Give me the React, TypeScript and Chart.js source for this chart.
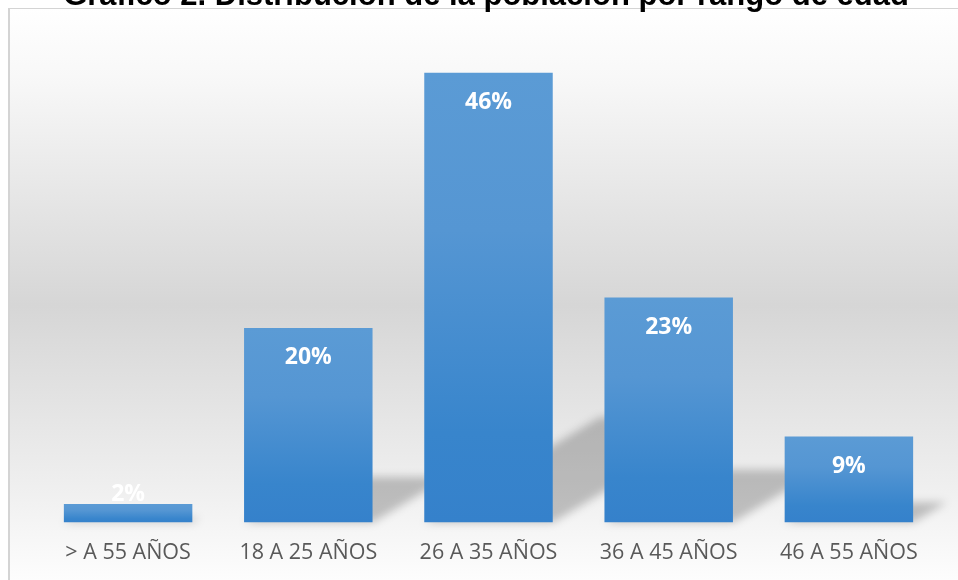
import React, { useEffect, useRef } from "react";
import { Chart, registerables } from "chart.js";

Chart.register(...registerables);

const categories = ["> A 55 AÑOS", "18 A 25 AÑOS", "26 A 35 AÑOS", "36 A 45 AÑOS", "46 A 55 AÑOS"];
const values = [1.9, 19.9, 46, 23, 8.8];
const titleText = "Gráfico 2. Distribución de la población por rango de edad";

const backgroundPlugin = {
  id: "bgPlugin",
  beforeDraw(chart: any) {
    const ctx = chart.ctx;
    const W = chart.width;
    const H = chart.height;
    ctx.save();
    ctx.fillStyle = "#ffffff";
    ctx.fillRect(0, 0, W, H);
    const g = ctx.createLinearGradient(0, 8, 0, H);
    g.addColorStop(0, "#ffffff");
    g.addColorStop(0.12, "#f8f8f8");
    g.addColorStop(0.52, "#d6d6d6");
    g.addColorStop(0.85, "#f0f0f0");
    g.addColorStop(1, "#fdfdfd");
    ctx.fillStyle = g;
    ctx.fillRect(8, 8, W - 8, H - 8);
    ctx.strokeStyle = "#d4d4d4";
    ctx.lineWidth = 1;
    ctx.beginPath();
    ctx.moveTo(8, 8.5);
    ctx.lineTo(W, 8.5);
    ctx.stroke();
    ctx.lineWidth = 2;
    ctx.beginPath();
    ctx.moveTo(9, 8);
    ctx.lineTo(9, H);
    ctx.stroke();
    ctx.fillStyle = "#000000";
    ctx.font = "bold 31px 'Liberation Sans', Arial, sans-serif";
    ctx.textAlign = "center";
    ctx.textBaseline = "alphabetic";
    ctx.fillText(titleText, 486, 5);
    ctx.restore();
  },
  beforeDatasetsDraw(chart: any) {
    const ctx = chart.ctx;
    const meta = chart.getDatasetMeta(0);
    ctx.save();
    ctx.filter = "blur(4px)";
    ctx.fillStyle = "rgba(0,0,0,0.22)";
    meta.data.forEach((el: any) => {
      const x0 = el.x - el.width / 2;
      const x1 = el.x + el.width / 2;
      const h = el.base - el.y;
      const dx = 0.39 * h;
      const dy = 0.234 * h;
      ctx.beginPath();
      ctx.moveTo(x0, el.base);
      ctx.lineTo(x1, el.base);
      ctx.lineTo(x1 + dx, el.base - dy);
      ctx.lineTo(x0 + dx, el.base - dy);
      ctx.closePath();
      ctx.fill();
    });
    ctx.restore();
  },
  afterDatasetsDraw(chart: any) {
    const ctx = chart.ctx;
    const meta = chart.getDatasetMeta(0);
    ctx.save();
    ctx.fillStyle = "#ffffff";
    ctx.font = "bold 23px 'Open Sans', sans-serif";
    ctx.textAlign = "center";
    ctx.textBaseline = "middle";
    meta.data.forEach((el: any, i: number) => {
      const cy = Math.min(el.y + 30, el.base - 28);
      ctx.fillText(Math.round(values[i]) + "%", el.x, cy);
    });
    ctx.restore();
  },
};

export default function App() {
  const ref = useRef<HTMLCanvasElement | null>(null);
  useEffect(() => {
    if (!ref.current) return;
    const chart = new Chart(ref.current, {
      type: "bar",
      data: {
        labels: categories,
        datasets: [
          {
            data: values,
            backgroundColor: (c: any) => {
              const ch = c.chart;
              if (!ch.chartArea || c.type !== "data" || !ch.scales.y) return "#4a8fd2";
              const top = ch.scales.y.getPixelForValue(c.parsed.y);
              const base = ch.scales.y.getPixelForValue(0);
              if (!isFinite(top) || !isFinite(base) || base - top < 1) return "#4a8fd2";
              const g = ch.ctx.createLinearGradient(0, top, 0, base);
              g.addColorStop(0, "#5b9bd5");
              g.addColorStop(0.35, "#5596d3");
              g.addColorStop(0.8, "#3885cc");
              g.addColorStop(1, "#3581cb");
              return g;
            },
            borderWidth: 0,
            barPercentage: 0.713,
            categoryPercentage: 1,
          },
        ],
      },
      options: {
        responsive: false,
        animation: false,
        layout: { padding: { left: 38, right: 19, top: 33.6, bottom: 0 } },
        plugins: { legend: { display: false }, title: { display: false }, tooltip: { enabled: false } },
        scales: {
          x: {
            grid: { display: false, drawTicks: false },
            border: { display: false },
            ticks: {
              color: "#595959",
              font: { family: "'Open Sans', sans-serif", size: 21.5 },
              padding: 17,
              maxRotation: 0,
              autoSkip: false,
            },
            afterFit: (s: any) => {
              s.height = 57.5;
            },
          },
          y: { display: false, min: 0, max: 50 },
        },
      },
      plugins: [backgroundPlugin],
    });
    return () => chart.destroy();
  }, []);
  return (
    <canvas
      ref={ref}
      width={958}
      height={580}
      style={{ position: "fixed", left: 0, top: 0, display: "block", width: 958, height: 580 }}
    />
  );
}
